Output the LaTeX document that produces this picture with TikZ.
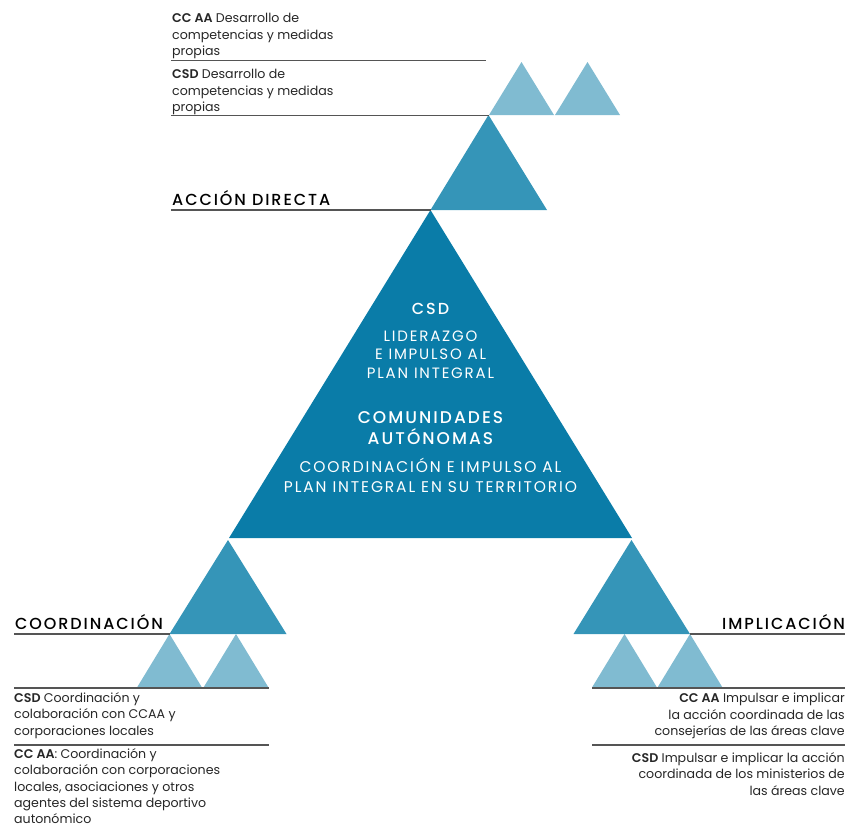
\documentclass[tikz,border=0pt]{standalone}
\usepackage{fontspec}
\setmainfont{Poppins}[BoldFont={Poppins SemiBold}]
\newfontfamily\capsfont{Poppins}[LetterSpace=12, BoldFont={Poppins Medium}]
\usetikzlibrary{positioning}
\definecolor{bigblue}{HTML}{0A7CA8}
\definecolor{midblue}{HTML}{3595B8}
\definecolor{lightblue}{HTML}{80BBD1}
\definecolor{rulegray}{HTML}{555555}
\begin{document}
\begin{tikzpicture}[x=1pt,y=-1pt,
    bigtri/.style={fill=bigblue},
    midtri/.style={fill=midblue},
    smalltri/.style={fill=lightblue},
    rule/.style={draw=rulegray, line width=1.2pt},
    note/.style={font=\fontsize{12.6}{16.5}\selectfont, inner sep=0pt, text=black!85},
    head/.style={font=\capsfont\fontsize{16}{18}\selectfont\bfseries, inner sep=0pt},
    inside/.style={text=white, align=center, inner sep=0pt},]
    \useasboundingbox (0,0) rectangle (849,827);
    % triangles
    \fill[bigtri] (430.5,210) -- (632,538) -- (229,538) -- cycle;
    \fill[midtri] (488.5,115) -- (547,210) -- (430.5,210) -- cycle;
    \fill[midtri] (228,540) -- (286.5,634) -- (169.5,634) -- cycle;
    \fill[midtri] (631.5,540) -- (690,634) -- (573.5,634) -- cycle;
    \foreach \x in {521.5,587.5}
        \fill[smalltri] (\x,62) -- ++(32.5,53) -- ++(-65,0) -- cycle;
    \foreach \x in {169.5,236,624.5,690}
        \fill[smalltri] (\x,634) -- ++(32.5,53.5) -- ++(-65,0) -- cycle;
    % nodes
    \node[note, anchor=north west, align=left] (ccaatop) at (172,13)
        {\textbf{CC AA} Desarrollo de\\competencias y medidas\\propias};
    \node[note, anchor=north west, align=left] (csdtop) at (172,69)
        {\textbf{CSD} Desarrollo de\\competencias y medidas\\propias};
    \node[head, anchor=south west] (accion) at (172,205.5) {ACCIÓN DIRECTA};
    \node[head, anchor=south west] (coord) at (15,630) {COORDINACIÓN};
    \node[head, anchor=south east] (impl) at (845,630) {IMPLICACIÓN};
    \node[inside, font=\capsfont\fontsize{16}{18}\selectfont\bfseries] (csdin) at (430.5,309) {CSD};
    \node[inside, font=\capsfont\fontsize{15}{18.5}\selectfont] (lider) at (430.5,354.5)
        {LIDERAZGO\\E IMPULSO AL\\PLAN INTEGRAL};
    \node[inside, font=\capsfont\fontsize{17}{21}\selectfont\bfseries] (ccaain) at (430.5,428)
        {COMUNIDADES\\AUTÓNOMAS};
    \node[inside, font=\capsfont\fontsize{15.5}{20}\selectfont] (coordin) at (430.5,475.5)
        {COORDINACIÓN E IMPULSO AL\\PLAN INTEGRAL EN SU TERRITORIO};
    \node[note, anchor=north west, align=left] (csdleft) at (14,692)
        {\textbf{CSD} Coordinación y\\colaboración con CCAA y\\corporaciones locales};
    \node[note, anchor=north west, align=left, font=\fontsize{12.6}{16.2}\selectfont] (ccaaleft) at (14,748.5)
        {\textbf{CC AA}: Coordinación y\\colaboración con corporaciones\\locales, asociaciones y otros\\agentes del sistema deportivo\\autonómico};
    \node[note, anchor=north east, align=right] (ccaaright) at (845,693)
        {\textbf{CC AA} Impulsar e implicar\\la acción coordinada de las\\consejerías de las áreas clave};
    \node[note, anchor=north east, align=right] (csdright) at (845,752)
        {\textbf{CSD} Impulsar e implicar la acción\\coordinada de los ministerios de\\las áreas clave};
    % lines
    \coordinate (t1a) at (171,60.5);  \coordinate (t1b) at (486,60.5);
    \coordinate (t2a) at (171,115.5); \coordinate (t2b) at (489,115.5);
    \coordinate (t3a) at (171,210);   \coordinate (t3b) at (430.5,210);
    \coordinate (l1a) at (14,634);    \coordinate (l1b) at (169.5,634);
    \coordinate (l2a) at (14,688);    \coordinate (l2b) at (268.5,688);
    \coordinate (l3a) at (14,745);    \coordinate (l3b) at (268.5,745);
    \coordinate (r1a) at (690,634);   \coordinate (r1b) at (845,634);
    \coordinate (r2a) at (592,688);   \coordinate (r2b) at (845,688);
    \coordinate (r3a) at (592,745);   \coordinate (r3b) at (845,745);
    \foreach \a/\b in {t1a/t1b,t2a/t2b,t3a/t3b,l1a/l1b,l2a/l2b,l3a/l3b,r1a/r1b,r2a/r2b,r3a/r3b}
        \draw[rule] (\a) -- (\b);
\end{tikzpicture}
\end{document}
